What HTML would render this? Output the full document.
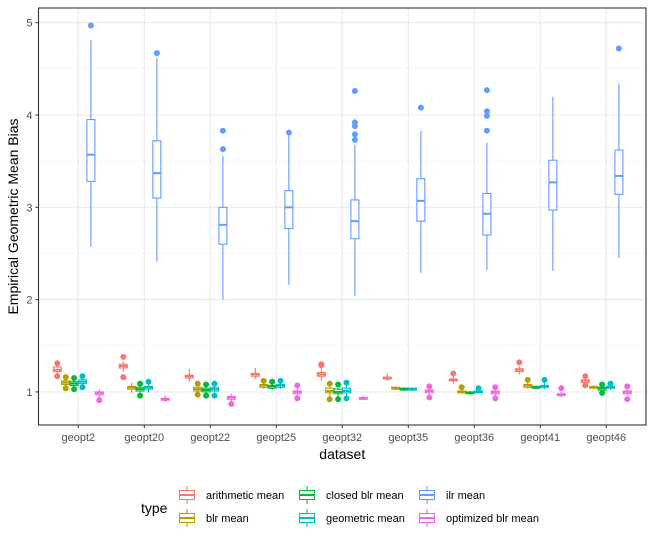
<!DOCTYPE html>
<html><head><meta charset="utf-8"><style>
body{margin:0;background:#fff;font-family:"Liberation Sans",sans-serif}
svg{display:block}
</style></head><body>
<svg id="c" width="653" height="545"></svg>
<script>
const categories=["geopt2","geopt20","geopt22","geopt25","geopt32","geopt35","geopt36","geopt41","geopt46"];
const types=["arithmetic mean","blr mean","closed blr mean","geometric mean","ilr mean","optimized blr mean"];
const colors=["#F8766D","#B79F00","#00BA38","#00BFC4","#619CFF","#F564E3"];
const yTicks=[1,2,3,4,5];
// per type: arrays over categories
const arithMed=[1.24,1.28,1.17,1.19,1.19,1.15,1.13,1.24,1.12];
const arithQ1=[1.22,1.26,1.15,1.17,1.17,1.14,1.12,1.22,1.10];
const arithQ3=[1.27,1.30,1.18,1.20,1.21,1.16,1.14,1.25,1.13];
const arithLo=[1.19,1.22,1.11,1.14,1.12,1.12,1.09,1.19,1.08];
const arithHi=[1.29,1.33,1.25,1.26,1.27,1.20,1.19,1.28,1.16];
const arithOut=[[1.31,1.17],[1.38,1.16],[],[],[1.30,1.29],[],[1.20],[1.32],[1.17,1.07]];
const blrMed=[1.10,1.05,1.03,1.07,1.01,1.04,1.00,1.07,1.05];
const blrQ1=[1.08,1.03,1.01,1.05,0.99,1.03,0.99,1.05,1.04];
const blrQ3=[1.12,1.06,1.05,1.08,1.04,1.05,1.01,1.08,1.06];
const blrLo=[1.06,0.99,0.99,1.03,0.95,1.02,0.98,1.03,1.03];
const blrHi=[1.14,1.10,1.07,1.11,1.07,1.06,1.03,1.10,1.07];
const blrOut=[[1.16,1.04],[],[1.09,0.97],[1.12],[1.09,0.92],[],[1.05],[1.13],[]];
const closedMed=[1.09,1.03,1.02,1.06,1.00,1.03,0.99,1.05,1.04];
const closedQ1=[1.07,1.01,1.00,1.04,0.98,1.02,0.98,1.04,1.02];
const closedQ3=[1.11,1.05,1.04,1.07,1.03,1.04,1.00,1.06,1.05];
const closedLo=[1.05,0.99,0.98,1.02,0.95,1.01,0.97,1.03,1.00];
const closedHi=[1.13,1.07,1.06,1.09,1.06,1.05,1.01,1.07,1.07];
const closedOut=[[1.15,1.03],[1.09,0.96],[1.08,0.96],[1.11],[1.08,0.92],[],[],[],[1.08,0.99]];
const geoMed=[1.11,1.05,1.03,1.07,1.01,1.03,1.00,1.06,1.05];
const geoQ1=[1.09,1.03,1.01,1.05,0.99,1.02,0.99,1.05,1.04];
const geoQ3=[1.13,1.06,1.05,1.08,1.04,1.04,1.01,1.07,1.06];
const geoLo=[1.07,0.99,0.99,1.03,0.96,1.01,0.98,1.03,1.02];
const geoHi=[1.15,1.09,1.07,1.10,1.07,1.05,1.03,1.10,1.08];
const geoOut=[[1.17,1.05],[1.11],[1.09,0.96],[1.12],[1.10,0.93],[],[1.04],[1.13],[1.09]];
const ilrMed=[3.57,3.37,2.81,3.00,2.85,3.07,2.93,3.27,3.34];
const ilrQ1=[3.28,3.10,2.60,2.77,2.66,2.85,2.70,2.97,3.14];
const ilrQ3=[3.95,3.72,3.00,3.18,3.08,3.31,3.15,3.51,3.62];
const ilrLo=[2.57,2.41,2.00,2.16,2.04,2.29,2.32,2.31,2.45];
const ilrHi=[4.81,4.62,3.56,3.78,3.68,3.83,3.70,4.20,4.34];
const ilrOut=[[4.97],[4.67],[3.83,3.63],[3.81],[4.26,3.92,3.88,3.79,3.73],[4.08],[4.27,4.04,3.99,3.83],[],[4.72]];
const optMed=[0.99,0.92,0.94,1.00,0.93,1.01,1.00,0.97,1.00];
const optQ1=[0.97,0.91,0.92,0.98,0.92,0.99,0.98,0.96,0.98];
const optQ3=[1.00,0.93,0.95,1.01,0.94,1.02,1.01,0.98,1.01];
const optLo=[0.94,0.89,0.89,0.96,0.91,0.97,0.96,0.94,0.96];
const optHi=[1.03,0.96,0.98,1.04,0.96,1.04,1.03,1.00,1.03];
const optOut=[[0.91],[],[0.87],[1.07,0.93],[],[1.06,0.94],[1.05,0.93],[1.04],[1.06,0.92]];
const series=[[arithMed,arithQ1,arithQ3,arithLo,arithHi,arithOut],[blrMed,blrQ1,blrQ3,blrLo,blrHi,blrOut],[closedMed,closedQ1,closedQ3,closedLo,closedHi,closedOut],[geoMed,geoQ1,geoQ3,geoLo,geoHi,geoOut],[ilrMed,ilrQ1,ilrQ3,ilrLo,ilrHi,ilrOut],[optMed,optQ1,optQ3,optLo,optHi,optOut]];
const typeKeys=["arithmetic","blr","closed","geometric","ilr","optimized"];

const NS="http://www.w3.org/2000/svg",svg=document.getElementById('c');
const L=38.5,R=646,T=8,B=425;
const step=66,x0=78.3;
const X=i=>x0+step*i;
const Y=v=>207.3-(v-3)*92.3;
function el(tag,a,p){const e=document.createElementNS(NS,tag);for(const k in a)e.setAttribute(k,a[k]);(p||svg).appendChild(e);return e;}
const g=el('g',{});


el('rect',{x:L,y:T,width:R-L,height:B-T,fill:'#fff'},g);
for(let v=0.5;v<=5.5;v+=1){const y=Y(v);if(y>T&&y<B)el('line',{x1:L,x2:R,y1:y,y2:y,stroke:'#f2f2f2','stroke-width':0.6},g);}
yTicks.forEach(v=>{const l=el('line',{x1:L,x2:R,y1:Y(v),y2:Y(v),stroke:'#ebebeb','stroke-width':1.1},g);
});
categories.forEach((c,i)=>{el('line',{x1:X(i),x2:X(i),y1:T,y2:B,stroke:'#ebebeb','stroke-width':1.1},g);});
const offs=[-21,-12.6,-4.2,4.2,12.6,21],bw=8;
series.forEach((s,t)=>{
 const [med,q1,q3,lo,hi,out]=s,col=colors[t];
 categories.forEach((c,i)=>{
  const cx=X(i)+offs[t];
  const b=el('g',{},g);
  
  
  el('line',{x1:cx,x2:cx,y1:Y(hi[i]),y2:Y(q3[i]),stroke:col,'stroke-width':1.1},b);
  el('line',{x1:cx,x2:cx,y1:Y(q1[i]),y2:Y(lo[i]),stroke:col,'stroke-width':1.1},b);
  el('rect',{x:cx-bw/2,y:Y(q3[i]),width:bw,height:Math.max(Y(q1[i])-Y(q3[i]),0.5),fill:'#fff',stroke:col,'stroke-width':1.1},b);
  el('line',{x1:cx-bw/2,x2:cx+bw/2,y1:Y(med[i]),y2:Y(med[i]),stroke:col,'stroke-width':2},b);
  out[i].forEach(v=>{const p=el('circle',{cx:cx,cy:Y(v),r:3,fill:col},b);
   });
 });
});
el('rect',{x:L,y:T,width:R-L,height:B-T,fill:'none',stroke:'#333','stroke-width':1.1},g);
yTicks.forEach(v=>{el('line',{x1:L-3,x2:L,y1:Y(v),y2:Y(v),stroke:'#333'});
 const t=el('text',{x:L-6,y:Y(v)+4,'text-anchor':'end','font-size':11,fill:'#4d4d4d'});t.textContent=v;
 });
categories.forEach((c,i)=>{el('line',{x1:X(i),x2:X(i),y1:B,y2:B+3,stroke:'#333'});
 const t=el('text',{x:X(i),y:B+16,'text-anchor':'middle','font-size':11,fill:'#4d4d4d'});t.textContent=c;
 });
let t=el('text',{x:(L+R)/2,y:459,'text-anchor':'middle','font-size':14,fill:'#000'});t.textContent='dataset';

t=el('text',{x:0,y:0,'text-anchor':'middle','font-size':14,fill:'#000',transform:'translate(18,'+((T+B)/2)+') rotate(-90)'});t.textContent='Empirical Geometric Mean Bias';

// legend
const lg=el('g',{});


t=el('text',{x:141,y:513,'font-size':14,fill:'#000'},lg);t.textContent='type';
const lx=[178,298,418],ly=[486,509];
const order=[0,1,2,3,4,5];
order.forEach((ti,k)=>{
 const col=Math.floor(k/2),row=k%2,x=lx[col],y=ly[row],c=colors[ti];
 const e=el('g',{},lg);
 
 
 el('line',{x1:x+9,x2:x+9,y1:y,y2:y+18,stroke:c,'stroke-width':1.1},e);
 el('rect',{x:x+1.5,y:y+4.5,width:15,height:9,fill:'#fff',stroke:c,'stroke-width':1.1},e);
 el('line',{x1:x+1.5,x2:x+16.5,y1:y+9,y2:y+9,stroke:c,'stroke-width':2},e);
 const tt=el('text',{x:x+28,y:y+13,'font-size':11,fill:'#000'},e);tt.textContent=types[ti];
});
</script>
</body></html>
